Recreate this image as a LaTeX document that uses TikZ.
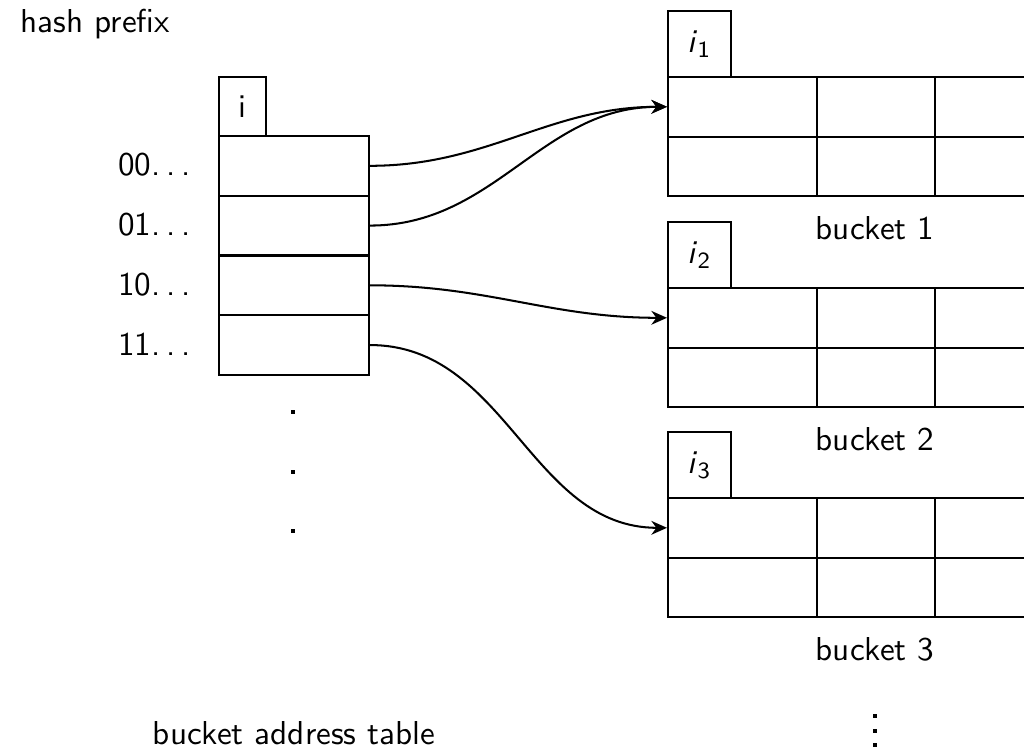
\documentclass[tikz,border=0pt]{standalone}
\usetikzlibrary{arrows.meta}
\renewcommand{\familydefault}{\sfdefault}
\newcommand{\mydots}{.\kern.17em.\kern.17em.}
\begin{document}
\begin{tikzpicture}[x=0.32pt,y=-0.32pt,
  every node/.style={font=\fontsize{10.6pt}{12.7pt}\selectfont\sffamily},
  cell/.style={draw, line width=0.65pt, anchor=north west, inner sep=0pt, minimum height=59.6*0.32pt},
  tag/.style={draw, line width=0.65pt, anchor=north west, inner sep=0pt},
  lab/.style={inner sep=0pt},
  dotn/.style={fill, inner sep=0pt, minimum size=4.6*0.32pt},
  conn/.style={line width=0.65pt, -{Stealth[length=5pt,width=4.4pt,inset=1.6pt]}}]
\useasboundingbox (0,0) rectangle (1024,747);
\clip (0,0) rectangle (1024,747);
% title
\node[lab, anchor=base west] (hp) at (20,33) {hash prefix};
% address table
\node[tag, minimum width=47*0.32pt, minimum height=59*0.32pt] (itag) at (218,76) {i};
\foreach \k/\t in {0/00,1/01,2/10,3/11}{
  \node[cell, minimum width=150*0.32pt] (a\k) at (218,135+59.75*\k) {};
  \node[lab, anchor=base east] (l\k) at (191,176+59.75*\k) {\t\mydots};
}
% dots under table
\node[dotn] (d1) at (293,412) {};
\node[dotn] (d2) at (293,472) {};
\node[dotn] (d3) at (293,531) {};
\node[lab, anchor=base] (bat) at (294,744) {bucket address table};
% buckets
\foreach \b/\top in {1/76,2/287,3/497}{
  \node[tag, minimum width=63*0.32pt, minimum height=66*0.32pt] (t\b) at (667,\top-66) {\textit{i}\textsubscript{\b}};
  \foreach \r in {0,1}{
    \node[cell, minimum width=149*0.32pt] (b\b r\r c0) at (667,\top+59.6*\r) {};
    \node[cell, minimum width=118*0.32pt] (b\b r\r c1) at (816,\top+59.6*\r) {};
    \node[cell, minimum width=118*0.32pt] (b\b r\r c2) at (934,\top+59.6*\r) {};
  }
  \node[lab, anchor=base] (bl\b) at (875,\top+119.2+44) {bucket \b};
}
\node[dotn, minimum size=4*0.32pt] (e1) at (875,716) {};
\node[dotn, minimum size=4*0.32pt] (e2) at (875,731) {};
\node[dotn, minimum size=4*0.32pt] (e3) at (875,745) {};
% connectors
\draw[conn] (a0.east) to[out=0,in=180] (b1r0c0.west);
\draw[conn] (a1.east) to[out=0,in=180] (b1r0c0.west);
\draw[conn] (a2.east) to[out=0,in=180] (b2r0c0.west);
\draw[conn] (a3.east) to[out=0,in=180] (b3r0c0.west);
\end{tikzpicture}
\end{document}
